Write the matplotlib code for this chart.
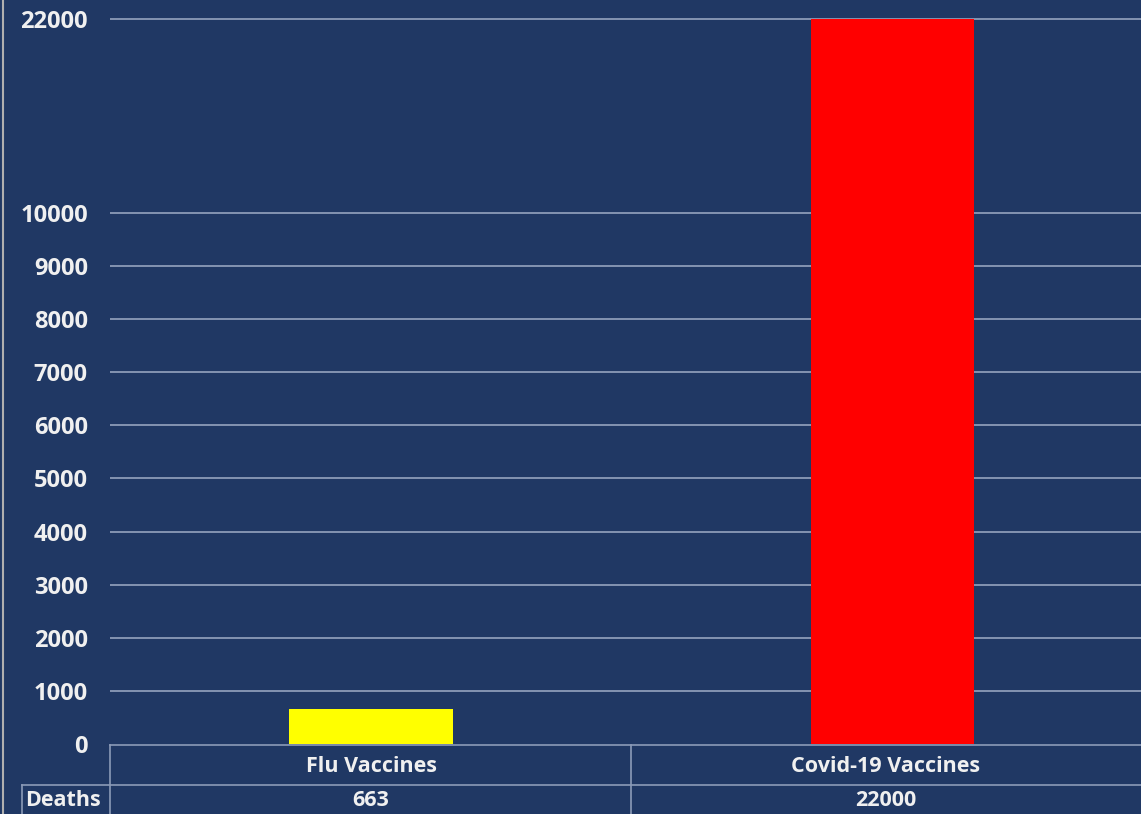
import numpy as np
import matplotlib
matplotlib.use("Agg")
import matplotlib.pyplot as plt
from matplotlib.lines import Line2D

categories = ["Flu Vaccines", "Covid-19 Vaccines"]
deaths = [663, 22000]
bar_colors = ["#ffff00", "#ff0000"]
yticks = [0, 1000, 2000, 3000, 4000, 5000, 6000, 7000, 8000, 9000, 10000, 22000]
row_label = "Deaths"

BG = "#203864"
GRID = "#8c9bb8"
TXT = "#f0f0f0"
FONT = "Open Sans"

# broken axis: linear up to 10000, compressed above
BREAK = 10000.0
K = 0.304

def fwd(y):
    y = np.asarray(y, dtype=float)
    return np.where(y <= BREAK, y, BREAK + (y - BREAK) * K)

def inv(t):
    t = np.asarray(t, dtype=float)
    return np.where(t <= BREAK, t, BREAK + (t - BREAK) / K)

W, H = 1141, 814
fig = plt.figure(figsize=(W / 100, H / 100), dpi=100, facecolor=BG)
ax = fig.add_axes([110 / W, 70 / H, 1 - 110 / W, 1 - 70 / H])
ax.set_facecolor(BG)
ax.set_yscale("function", functions=(fwd, inv))
ax.set_ylim(0, float(inv(14010)))
ax.set_xlim(-0.5, 1.5)

x = np.arange(len(categories))
ax.bar(x + np.array([0.006, 0.018]), deaths, width=0.318, color=bar_colors, zorder=3)

ax.set_yticks(yticks)
ax.set_yticklabels([str(v) for v in yticks], fontsize=17, fontweight="bold",
                   color=TXT, family=FONT)
ax.yaxis.set_minor_locator(matplotlib.ticker.NullLocator())
ax.tick_params(axis="y", length=0, pad=16)
ax.set_xticks([])
for v in yticks[1:]:
    ax.axhline(v, color=GRID, lw=1.3, zorder=1)
for s in ax.spines.values():
    s.set_visible(False)

def px(xp, yp):
    return xp / W, 1 - yp / H

# table lines
lines = [
    ((110, 745), (1141, 745)),
    ((22, 785), (1141, 785)),
    ((110, 745), (110, 814)),
    ((631, 745), (631, 814)),
    ((22, 785), (22, 814)),
]
for (a, b) in lines:
    (x0, y0), (x1, y1) = px(*a), px(*b)
    fig.add_artist(Line2D([x0, x1], [y0, y1], color=GRID, lw=1.2))
# left border
fig.add_artist(Line2D([3 / W, 3 / W], [0, 1], color="#b0b0b0", lw=1.5))

col_centers = [371, 886]
for c, cat, d in zip(col_centers, categories, deaths):
    fig.text(*px(c, 766), cat, ha="center", va="center", fontsize=15.5,
             fontweight="bold", color=TXT, family=FONT)
    fig.text(*px(c, 801), str(d), ha="center", va="center", fontsize=15.5,
             fontweight="bold", color=TXT, family=FONT)
fig.text(*px(25, 801), row_label, ha="left", va="center", fontsize=15.5,
         fontweight="bold", color=TXT, family=FONT)

fig.savefig("out.png", dpi=100, facecolor=BG)
